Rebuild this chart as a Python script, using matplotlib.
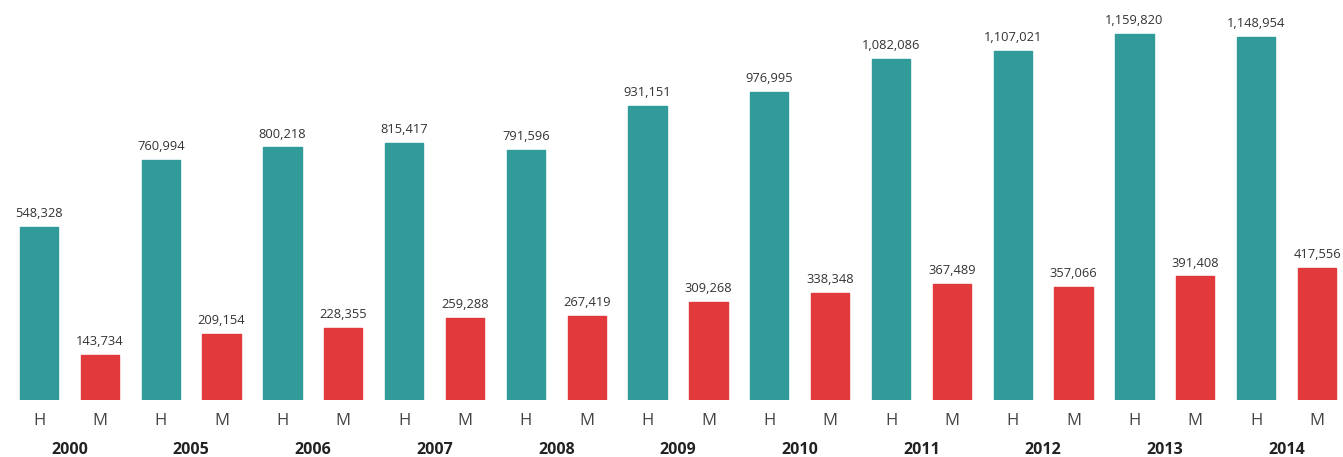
import matplotlib.pyplot as plt
import numpy as np

# Data
years = ["2000", "2005", "2006", "2007", "2008", "2009", "2010", "2011", "2012", "2013", "2014"]
hombres = [548328, 760994, 800218, 815417, 791596, 931151, 976995, 1082086, 1107021, 1159820, 1148954]
mujeres = [143734, 209154, 228355, 259288, 267419, 309268, 338348, 367489, 357066, 391408, 417556]
sub_labels = ["H", "M"]

teal = "#319b9a"
red = "#e2393d"

plt.rcParams["font.family"] = ["Open Sans", "DejaVu Sans"]

fig = plt.figure(figsize=(13.43, 4.57), dpi=100)
ax = fig.add_axes([0, 57 / 457, 1, 400 / 457])

n = len(years)
x_h = np.arange(n) * 2
x_m = x_h + 1
width = 0.63

bars_h = ax.bar(x_h, hombres, width=width, color=teal, edgecolor=teal,
                linewidth=1, joinstyle="round")
bars_m = ax.bar(x_m, mujeres, width=width, color=red, edgecolor=red,
                linewidth=1, joinstyle="round")

# value labels above each bar
for bars, vals in [(bars_h, hombres), (bars_m, mujeres)]:
    for b, v in zip(bars, vals):
        ax.annotate(f"{v:,}", (b.get_x() + b.get_width() / 2, v),
                    xytext=(0, 5), textcoords="offset points",
                    ha="center", va="bottom", fontsize=9.3, color="#333333")

ax.set_xlim(-0.641, 21.427)
ax.set_ylim(0, 1267600)

# H / M labels and year labels under the bars
for i in range(n):
    ax.text(x_h[i], -66500, sub_labels[0], ha="center", va="center",
            fontsize=12, color="#444444")
    ax.text(x_m[i], -66500, sub_labels[1], ha="center", va="center",
            fontsize=12, color="#444444")
    ax.text((x_h[i] + x_m[i]) / 2, -158500, years[i], ha="center", va="center",
            fontsize=11.5, fontweight="bold", color="#222222")

ax.set_xticks([])
ax.set_yticks([])
for s in ax.spines.values():
    s.set_visible(False)

fig.savefig("out.png", dpi=100)
